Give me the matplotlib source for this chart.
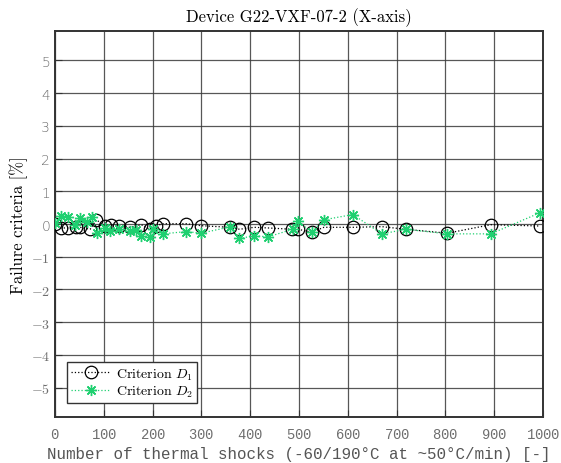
import matplotlib
matplotlib.use('Agg')
import matplotlib.pyplot as plt
import numpy as np

# thermal shock cycles and failure criteria (%)
x_d1 = [0, 12, 27, 43, 51, 72, 85, 102, 115, 131, 153, 177, 194, 207, 221, 269, 299,
        358, 378, 408, 437, 486, 498, 526, 551, 610, 670, 719, 804, 893, 993]
d1 = [0.0, -0.12, -0.12, -0.1, -0.1, -0.16, 0.13, -0.07, -0.02, -0.05, -0.1, -0.02, -0.16,
      -0.05, 0.01, 0.01, -0.05, -0.1, -0.16, -0.1, -0.12, -0.16, -0.16, -0.25, -0.1,
      -0.1, -0.08, -0.16, -0.28, -0.02, -0.06]

x_d2 = [0, 12, 27, 41, 51, 66, 76, 87, 102, 113, 131, 153, 167, 177, 194, 201, 221, 269, 299,
        358, 378, 408, 437, 487, 498, 526, 551, 610, 670, 719, 804, 893, 993]
d2 = [0.03, 0.26, 0.22, -0.02, 0.19, 0.05, 0.22, -0.28, -0.12, -0.2, -0.16, -0.2, -0.18,
      -0.36, -0.4, -0.16, -0.3, -0.23, -0.28, -0.09, -0.44, -0.36, -0.39, -0.16, 0.08,
      -0.25, 0.13, 0.29, -0.3, -0.16, -0.3, -0.3, 0.34]

green = '#1fd070'
grid_c = '#3a3a3a'
tick_c = '#6e6e6e'

plt.rcParams['mathtext.fontset'] = 'cm'
plt.rcParams['axes.formatter.use_mathtext'] = True

fig = plt.figure(figsize=(5.61, 4.64), dpi=100)
ax = fig.add_axes([0.098, 0.099, 0.870, 0.832])

ax.plot(x_d1, d1, linestyle=':', color='black', linewidth=0.9, marker='o', markersize=9,
        markerfacecolor='none', markeredgecolor='black', markeredgewidth=0.9,
        label=r'Criterion $D_1$', zorder=3)
ax.plot(x_d2, d2, linestyle=':', color=green, linewidth=0.9, marker=(8, 2, 0), markersize=8,
        markeredgewidth=1.0, label=r'Criterion $D_2$', zorder=4)

ax.set_xlim(0, 1000)
ax.set_ylim(-5.9, 5.9)
ax.set_xticks(np.arange(0, 1001, 100))
ax.set_yticks(np.arange(-5, 6, 1))
ax.grid(True, color=grid_c, linewidth=0.9, alpha=0.85)
ax.set_axisbelow(True)

for s in ax.spines.values():
    s.set_color('#333333')
    s.set_linewidth(1.4)

ax.tick_params(direction='in', length=5, colors='#333333', top=False, right=False)
ax.tick_params(axis='x', pad=7)
for lab in ax.get_xticklabels():
    lab.set_fontfamily('Liberation Mono')
    lab.set_fontsize(10)
    lab.set_color(tick_c)
ax.set_yticklabels([r'$-5$', r'$-4$', r'$-3$', r'$-2$', r'$-1$', '0', '1', '2', '3', '4', '5'])
for lab in ax.get_yticklabels():
    lab.set_fontfamily('DejaVu Sans')
    lab.set_fontsize(10)
    lab.set_color(tick_c)
    lab.set_fontweight('light')

ax.set_title('Device G22-VXF-07-2 (X-axis)', fontfamily='cmr10', fontsize=12, pad=7)
ax.set_ylabel('Failure criteria [%]', fontfamily='cmr10', fontsize=12, labelpad=2)
ax.set_xlabel('Number of thermal shocks (-60/190°C at ~50°C/min) [-]',
              fontfamily='Liberation Mono', fontsize=11.4, color='#555555', labelpad=4)

leg = ax.legend(loc='lower left', bbox_to_anchor=(0.025, 0.036), borderaxespad=0,
                fancybox=False, edgecolor='#333333', framealpha=1,
                prop={'family': 'cmr10', 'size': 10},
                handlelength=2.8, borderpad=0.3, labelspacing=0.15, handletextpad=0.4)
leg.get_frame().set_linewidth(1.0)

fig.savefig('out.png', dpi=100)
